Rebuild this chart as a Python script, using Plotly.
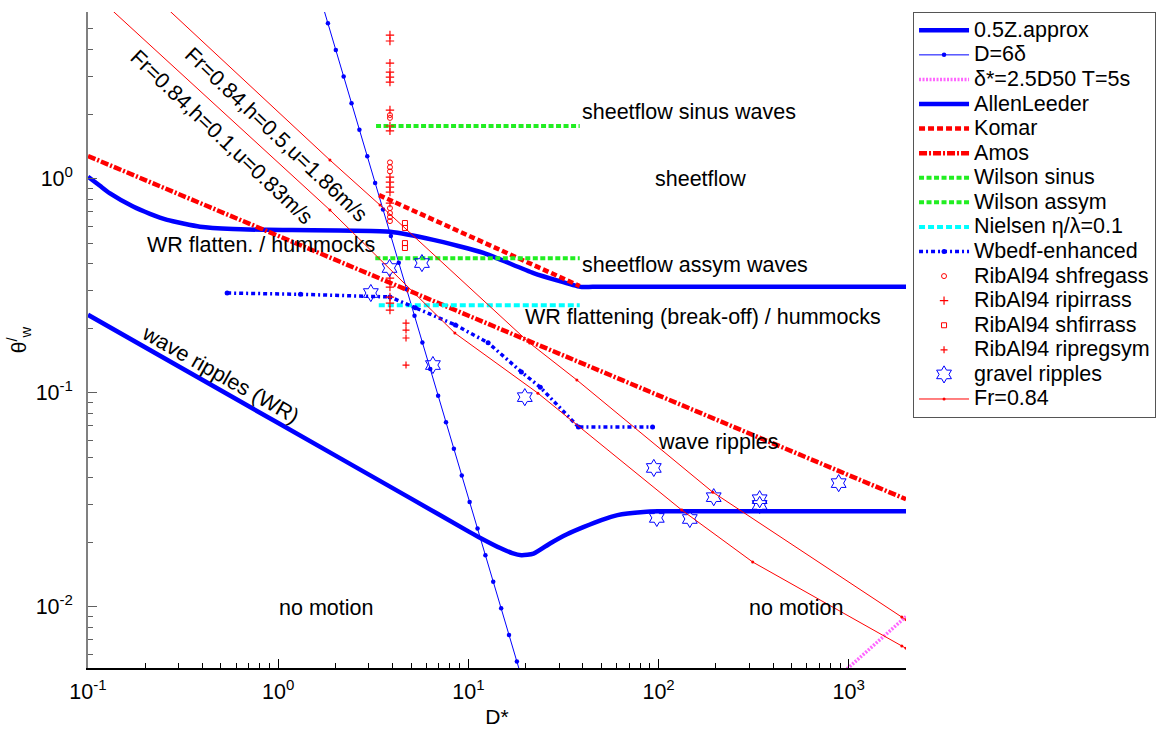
import plotly.graph_objects as go

# ---------------- bedform / threshold curves (D*, theta'_w) ----------------
# threshold of motion, 0.5 x Zanke approximation
z05_d = [0.1, 1, 5, 10, 11.3, 14.7, 17, 19, 22, 27, 33, 40.5, 50, 60.8, 83.4, 100, 2000]
z05_theta = [0.231, 0.0721, 0.032, 0.0225, 0.0212, 0.0188, 0.0178, 0.0174, 0.0177, 0.0198,
             0.0218, 0.0236, 0.0254, 0.0268, 0.0277, 0.0279, 0.0279]

# D = 6 delta
d6_d = [1.660, 1.826, 2.009, 2.209, 2.430, 2.673, 2.940, 3.234, 3.557, 3.913, 4.305, 4.735,
        5.209, 5.730, 6.303, 6.934, 7.627, 8.390, 9.230, 10.15, 11.17, 12.29, 13.51, 14.87,
        16.35, 17.99, 19.79]
d6_theta = [7.066, 5.308, 3.988, 2.996, 2.251, 1.691, 1.270, 0.9543, 0.7169, 0.5386, 0.4046,
            0.3040, 0.2284, 0.1716, 0.1289, 0.09685, 0.07276, 0.05466, 0.04107, 0.03085,
            0.02318, 0.01741, 0.01308, 0.009829, 0.007384, 0.005547, 0.004168]

# delta* = 2.5 D50, T = 5 s
ds_d = [950, 2000]
ds_theta = [0.0050, 0.0090]

# Allen & Leeder sheet-flow criterion
al_d = [0.1, 0.1156, 0.1305, 0.1726, 0.2118, 0.2606, 0.388, 0.579, 0.875, 3.88, 6.55, 12.0,
        22.0, 38.8, 45, 2000]
al_theta = [1.02, 0.925, 0.852, 0.740, 0.684, 0.641, 0.596, 0.581, 0.576, 0.564, 0.517, 0.45,
            0.362, 0.312, 0.312, 0.312]

komar_d = [3.39, 38.5]
komar_theta = [0.837, 0.315]

amos_d = [0.1, 2000]
amos_theta = [1.274, 0.0318]

wil_sin_d = [3.27, 38.5]
wil_sin_theta = [1.758, 1.758]

wil_asy_d = [3.24, 38.5]
wil_asy_theta = [0.424, 0.424]

niel_d = [3.38, 38.5]
niel_theta = [0.256, 0.256]

wb_d = [0.539, 1.31, 3.87, 5.26, 8.55, 12.7, 19.0, 23.9, 37.9, 93]
wb_theta = [0.292, 0.288, 0.280, 0.249, 0.207, 0.171, 0.125, 0.106, 0.0691, 0.0691]

# Froude number Fr = 0.84 lines
frA_d = [0.2565, 1.871, 3.43, 21.0, 37.2, 192.8, 1901, 2000]      # h=0.5, u=1.86 m/s
frA_theta = [6.31, 1.22, 0.752, 0.1705, 0.1146, 0.0343, 0.00895, 0.0087]
frB_d = [0.1286, 1.871, 8.49, 23.2, 132.4, 312.6, 1901, 2000]     # h=0.1, u=0.83 m/s
frB_theta = [6.31, 0.713, 0.1898, 0.0995, 0.0283, 0.01618, 0.00656, 0.0064]

# ---------------- measurements ----------------
rib_shfregass_d = [3.87, 3.87, 3.87, 3.87, 3.87, 3.87, 3.87, 3.87, 3.87]
rib_shfregass_theta = [1.98, 1.92, 1.19, 1.13, 1.08, 0.728, 0.690, 0.661, 0.633]

rib_ripirrass_d = [3.87, 3.87, 3.87, 3.87, 3.87, 3.87, 3.87, 3.87, 3.87, 3.87, 3.87, 3.87,
                   3.87, 3.87, 3.87, 3.87, 3.87, 3.87, 3.87]
rib_ripirrass_theta = [4.68, 4.39, 3.46, 3.14, 2.98, 2.82, 2.09, 1.76, 1.67, 1.016, 0.963,
                       0.913, 0.865, 0.768, 0.343, 0.311, 0.2796, 0.262, 0.243]

rib_shfirrass_d = [4.64, 4.64, 4.64, 4.64]
rib_shfirrass_theta = [0.620, 0.588, 0.4997, 0.474]

rib_ripregsym_d = [4.70, 4.70, 4.70, 4.70]
rib_ripregsym_theta = [0.2114, 0.196, 0.180, 0.1346]

gravel_d = [3.85, 3.07, 5.70, 6.51, 19.8, 94.4, 97.9, 146, 195, 340, 340, 885]
gravel_theta = [0.382, 0.292, 0.403, 0.1346, 0.0953, 0.0445, 0.026, 0.0257, 0.0325, 0.0318,
                0.0299, 0.0378]

# ---------------- axes ----------------
x_tick_vals = [0.1, 1, 10, 100, 1000]
x_tick_text = ["10<sup>-1</sup>", "10<sup>0</sup>", "10<sup>1</sup>", "10<sup>2</sup>", "10<sup>3</sup>"]
y_tick_vals = [0.01, 0.1, 1]
y_tick_text = ["10<sup>-2</sup>", "10<sup>-1</sup>", "10<sup>0</sup>"]

BLUE = "#0000ff"
RED = "#ff0000"
GREEN = "#22ee22"
CYAN = "#00ffff"
MAGENTA = "#ff66ff"
FONT = "Liberation Sans, Arial, sans-serif"


def label(s):
    return '<span style="font-size:21.5px">' + s + "</span>"


fig = go.Figure()

fig.add_trace(go.Scatter(x=z05_d, y=z05_theta, mode="lines", name=label("0.5Z.approx"),
                         line=dict(color=BLUE, width=4.5, shape="spline", smoothing=0.6)))
fig.add_trace(go.Scatter(x=d6_d, y=d6_theta, mode="lines+markers", name=label("D=6δ"),
                         line=dict(color=BLUE, width=1),
                         marker=dict(color=BLUE, size=4.5, symbol="circle")))
fig.add_trace(go.Scatter(x=ds_d, y=ds_theta, mode="lines", name=label("δ*=2.5D50 T=5s"),
                         line=dict(color=MAGENTA, width=3.5, dash="2px,1.5px")))
fig.add_trace(go.Scatter(x=al_d, y=al_theta, mode="lines", name=label("AllenLeeder"),
                         line=dict(color=BLUE, width=4.5, shape="spline", smoothing=0.5)))
fig.add_trace(go.Scatter(x=komar_d, y=komar_theta, mode="lines", name=label("Komar"),
                         line=dict(color=RED, width=4.5, dash="6px,3px")))
fig.add_trace(go.Scatter(x=amos_d, y=amos_theta, mode="lines", name=label("Amos"),
                         line=dict(color=RED, width=4.5, dash="8px,2px,2px,2px")))
fig.add_trace(go.Scatter(x=wil_sin_d, y=wil_sin_theta, mode="lines", name=label("Wilson sinus"),
                         line=dict(color=GREEN, width=4, dash="5px,2.5px")))
fig.add_trace(go.Scatter(x=wil_asy_d, y=wil_asy_theta, mode="lines", name=label("Wilson assym"),
                         line=dict(color=GREEN, width=4, dash="5px,2.5px")))
fig.add_trace(go.Scatter(x=niel_d, y=niel_theta, mode="lines", name=label("Nielsen η/λ=0.1"),
                         line=dict(color=CYAN, width=4, dash="6px,3px")))
fig.add_trace(go.Scatter(x=wb_d, y=wb_theta, mode="lines+markers", name=label("Wbedf-enhanced"),
                         line=dict(color=BLUE, width=3.5, dash="4px,3px,2px,3px"),
                         marker=dict(color=BLUE, size=5)))
fig.add_trace(go.Scatter(x=rib_shfregass_d, y=rib_shfregass_theta, mode="markers",
                         name=label("RibAl94 shfregass"),
                         marker=dict(symbol="circle-open", size=5, color=RED, line=dict(width=1))))
fig.add_trace(go.Scatter(x=rib_ripirrass_d, y=rib_ripirrass_theta, mode="markers",
                         name=label("RibAl94 ripirrass"),
                         marker=dict(symbol="cross-thin", size=6, color=RED, line=dict(width=1.2, color=RED))))
fig.add_trace(go.Scatter(x=rib_shfirrass_d, y=rib_shfirrass_theta, mode="markers",
                         name=label("RibAl94 shfirrass"),
                         marker=dict(symbol="square-open", size=5, color=RED, line=dict(width=1))))
fig.add_trace(go.Scatter(x=rib_ripregsym_d, y=rib_ripregsym_theta, mode="markers",
                         name=label("RibAl94 ripregsym"),
                         marker=dict(symbol="cross-thin", size=5, color=RED, line=dict(width=1.2, color=RED))))
fig.add_trace(go.Scatter(x=gravel_d, y=gravel_theta, mode="markers", name=label("gravel ripples"),
                         marker=dict(symbol="hexagram-open", size=13, color=BLUE, line=dict(width=1))))
fig.add_trace(go.Scatter(x=frA_d, y=frA_theta, mode="lines+markers", name=label("Fr=0.84"),
                         legendgroup="fr", line=dict(color=RED, width=1),
                         marker=dict(color=RED, size=3)))
fig.add_trace(go.Scatter(x=frB_d, y=frB_theta, mode="lines+markers", name="Fr=0.84",
                         legendgroup="fr", showlegend=False, line=dict(color=RED, width=1),
                         marker=dict(color=RED, size=3)))

# ---------------- region labels (log10 coordinates) ----------------
TXT = 21.5
notes = [
    ("sheetflow sinus waves", 1.586, 0.312, "left", 0),
    ("sheetflow", 2.222, -0.004, "center", 0),
    ("sheetflow assym waves", 1.586, -0.404, "left", 0),
    ("WR flattening (break-off) / hummocks", 1.2865, -0.6455, "left", 0),
    ("WR flatten. / hummocks", -0.7004, -0.3106, "left", 0),
    ("wave ripples", 1.9855, -1.229, "left", 0),
    ("no motion", 0.251, -2.006, "center", 0),
    ("no motion", 2.721, -2.006, "center", 0),
    ("wave ripples (WR)", -0.301, -0.918, "center", 29.5),
    ("Fr=0.84,h=0.5,u=1.86m/s", -0.0092, 0.203, "center", 43.5),
    ("Fr=0.84,h=0.1,u=0.83m/s", -0.298, 0.196, "center", 43.5),
]
for text, lx, ly, anchor, ang in notes:
    fig.add_annotation(x=lx, y=ly, xref="x", yref="y", text=text, showarrow=False,
                       xanchor=anchor, yanchor="middle", textangle=ang,
                       font=dict(size=TXT, color="black", family=FONT))

x_minor = [m * 10 ** e for e in range(-1, 4) for m in range(2, 10)]
y_minor = [m * 10 ** e for e in range(-3, 1) for m in range(2, 10)]

fig.update_layout(
    width=1162, height=734,
    margin=dict(l=88, r=256, t=12, b=66, autoexpand=False),
    paper_bgcolor="white", plot_bgcolor="white",
    font=dict(family=FONT, size=21, color="black"),
    showlegend=True,
    legend=dict(x=1.0086, y=1.0, xanchor="left", yanchor="top",
                bordercolor="#555555", borderwidth=1, bgcolor="white",
                font=dict(size=16.6, family=FONT, color="black"),
                itemwidth=50, tracegroupgap=0),
    xaxis=dict(type="log", range=[-1, 3.301], showgrid=False, zeroline=False,
               showline=True, linecolor="black", linewidth=1.5, mirror=False,
               ticks="inside", ticklen=9, tickwidth=1, tickcolor="black",
               tickmode="array", tickvals=x_tick_vals, ticktext=x_tick_text,
               tickfont=dict(size=21.5), ticklabelstandoff=3,
               minor=dict(ticks="inside", ticklen=5, tickcolor="black", tickmode="array",
                          tickvals=x_minor, showgrid=False),
               title=dict(text="D*", font=dict(size=21), standoff=7)),
    yaxis=dict(type="log", range=[-2.286, 0.778], showgrid=False, zeroline=False,
               showline=True, linecolor="#808080", linewidth=1.5, mirror=False,
               ticks="inside", ticklen=9, tickwidth=1, tickcolor="#606060",
               tickmode="array", tickvals=y_tick_vals, ticktext=y_tick_text,
               tickfont=dict(size=21.5), ticklabelstandoff=9,
               minor=dict(ticks="inside", ticklen=5, tickcolor="#606060", tickmode="array",
                          tickvals=y_minor, showgrid=False),
               title=dict(text="θ<sup>/</sup><sub>w</sub>", font=dict(size=21), standoff=3)),
)

fig.write_html("out.html")
